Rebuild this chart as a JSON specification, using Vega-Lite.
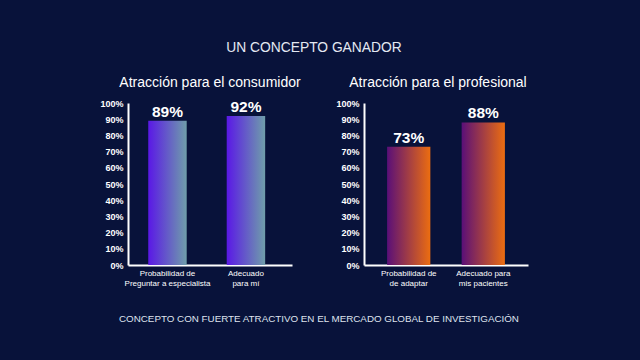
{
  "$schema": "https://vega.github.io/schema/vega-lite/v6.json",
  "background": "#08123a",
  "padding": {"left": 99, "top": 41, "right": 112, "bottom": 42},
  "config": {
    "view": {"stroke": null},
    "font": "Liberation Sans",
    "axis": {"grid": false, "ticks": false, "domainColor": "#ffffff", "domainWidth": 2, "labelColor": "#ffffff", "labelFont": "Liberation Sans", "titleColor": "#ffffff"},
    "concat": {"spacing": 34}
  },
  "title": {"text": "CONCEPTO CON FUERTE ATRACTIVO EN EL MERCADO GLOBAL DE INVESTIGACIÓN", "orient": "bottom", "anchor": "middle", "font": "Liberation Sans", "fontSize": 9.8, "fontWeight": "normal", "color": "#dfe3ee", "offset": 27, "dx": 5},
  "vconcat": [
    {
      "title": {"text": "UN CONCEPTO GANADOR", "anchor": "middle", "font": "Liberation Sans", "fontSize": 13.8, "fontWeight": "normal", "color": "#e4e8f2", "offset": 21},
      "hconcat": [
        {
          "title": {"text": "Atracción para el consumidor", "anchor": "middle", "font": "Liberation Sans", "fontSize": 14, "fontWeight": "normal", "color": "#ffffff", "offset": 9},
          "width": 164,
          "height": 162,
          "data": {"values": [
            {"label": "Probabilidad de|Preguntar a especialista", "pct": 0.89},
            {"label": "Adecuado|para mí", "pct": 0.92}
          ]},
          "encoding": {
            "x": {"field": "label", "type": "nominal", "sort": null, "scale": {"paddingInner": 0.51, "paddingOuter": 0.3, "align": 0.43},
              "axis": {"title": null, "labelAngle": 0, "labelExpr": "split(datum.label, '|')", "labelFontSize": 8, "labelLineHeight": 10, "labelPadding": 4}},
            "y": {"field": "pct", "type": "quantitative", "scale": {"domain": [0, 1]},
              "axis": {"title": null, "values": [0, 0.1, 0.2, 0.3, 0.4, 0.5, 0.6, 0.7, 0.8, 0.9, 1], "format": ".0%", "labelFontSize": 9, "labelFontWeight": "bold", "labelPadding": 5}}
          },
          "layer": [
            {"mark": {"type": "bar", "color": {"gradient": "linear", "x1": 0, "x2": 1, "y1": 0, "y2": 0, "stops": [{"offset": 0, "color": "#5a18e6"}, {"offset": 1, "color": "#6f9eaa"}]}}},
            {"mark": {"type": "text", "dy": -9, "fontSize": 15.5, "fontWeight": "bold", "color": "#ffffff", "font": "Liberation Sans"}, "encoding": {"text": {"field": "pct", "format": ".0%"}}}
          ]
        },
        {
          "title": {"text": "Atracción para el profesional", "anchor": "middle", "font": "Liberation Sans", "fontSize": 14, "fontWeight": "normal", "color": "#ffffff", "offset": 9, "dx": -8},
          "width": 164,
          "height": 162,
          "data": {"values": [
            {"label": "Probabilidad de|de adaptar", "pct": 0.73},
            {"label": "Adecuado para|mis pacientes", "pct": 0.88}
          ]},
          "encoding": {
            "x": {"field": "label", "type": "nominal", "sort": null, "scale": {"paddingInner": 0.42, "paddingOuter": 0.31},
              "axis": {"title": null, "labelAngle": 0, "labelExpr": "split(datum.label, '|')", "labelFontSize": 8, "labelLineHeight": 10, "labelPadding": 4}},
            "y": {"field": "pct", "type": "quantitative", "scale": {"domain": [0, 1]},
              "axis": {"title": null, "values": [0, 0.1, 0.2, 0.3, 0.4, 0.5, 0.6, 0.7, 0.8, 0.9, 1], "format": ".0%", "labelFontSize": 9, "labelFontWeight": "bold", "labelPadding": 5}}
          },
          "layer": [
            {"mark": {"type": "bar", "color": {"gradient": "linear", "x1": 0, "x2": 1, "y1": 0, "y2": 0, "stops": [{"offset": 0, "color": "#5a0f78"}, {"offset": 1, "color": "#ec6d10"}]}}},
            {"mark": {"type": "text", "dy": -9, "fontSize": 15.5, "fontWeight": "bold", "color": "#ffffff", "font": "Liberation Sans"}, "encoding": {"text": {"field": "pct", "format": ".0%"}}}
          ]
        }
      ]
    }
  ]
}
